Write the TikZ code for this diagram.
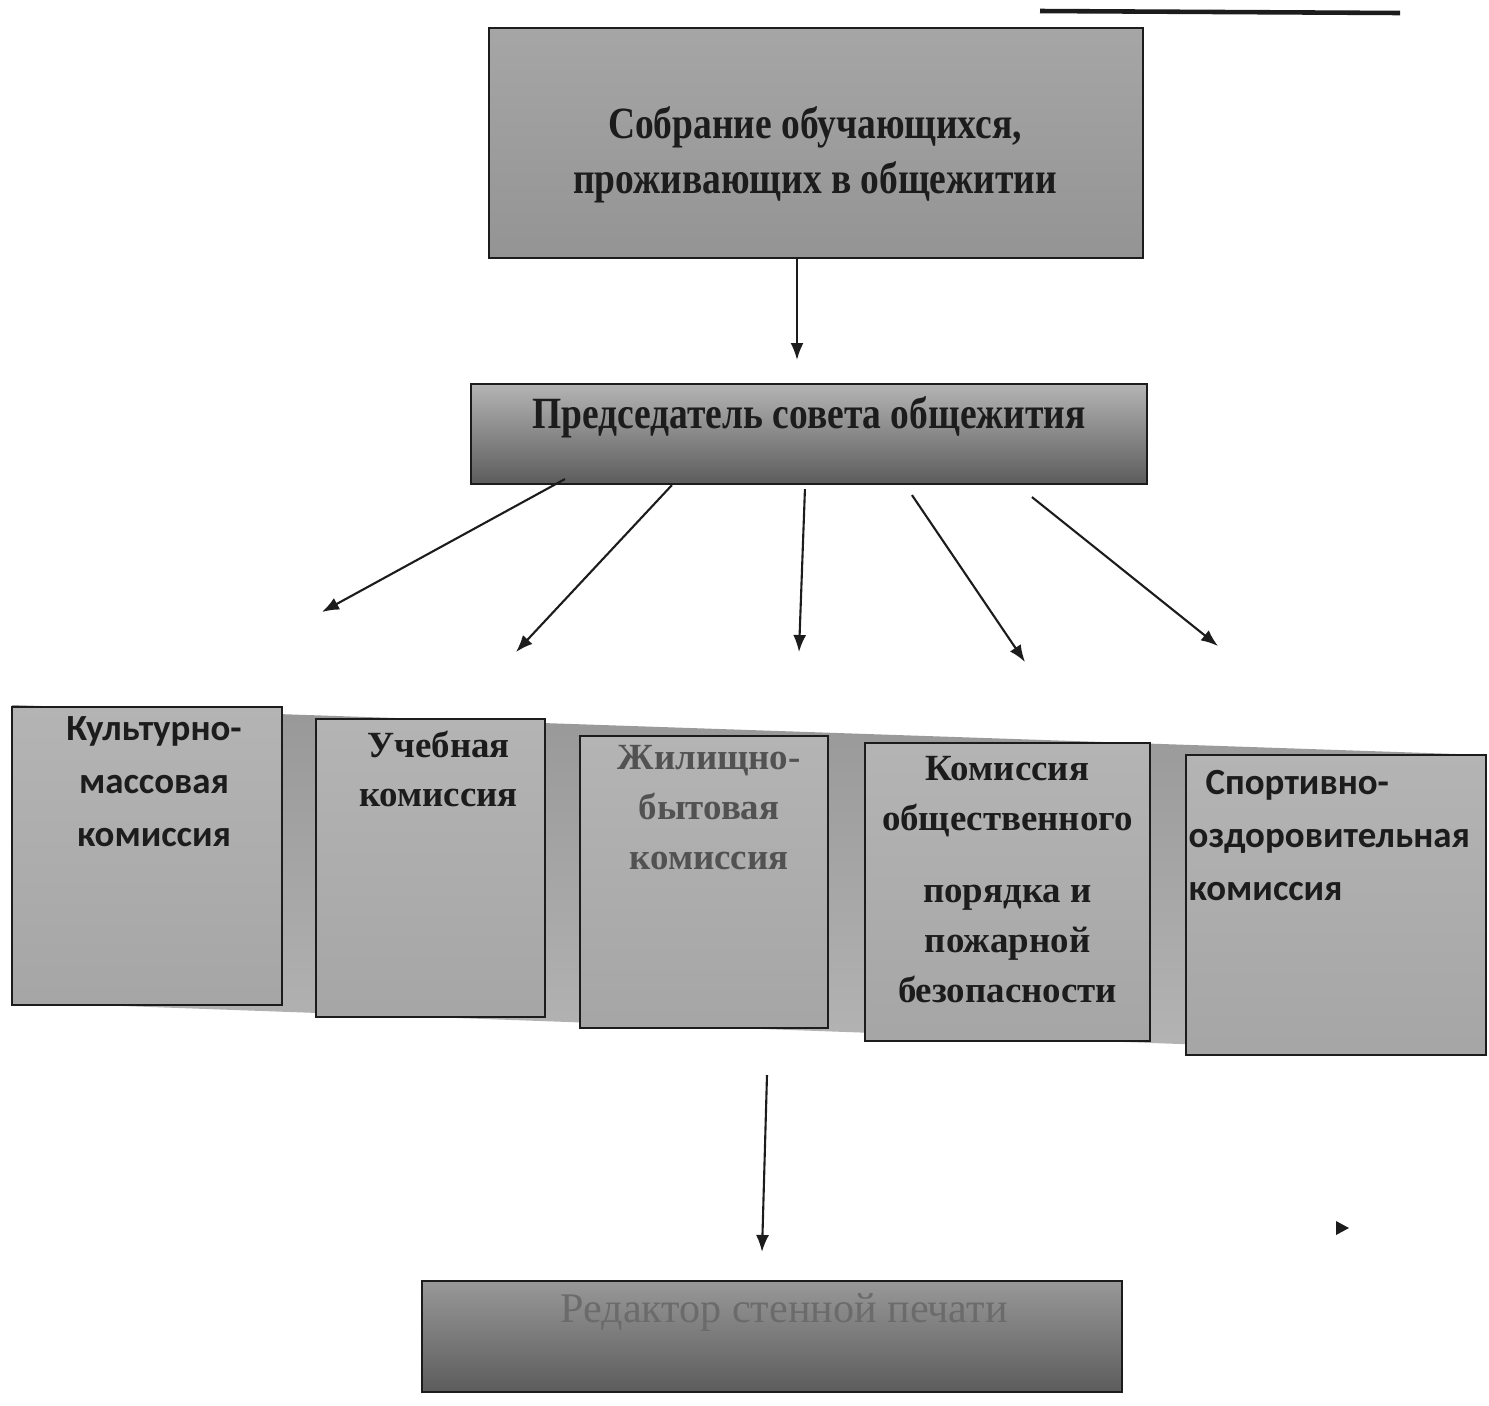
\documentclass[tikz,border=0pt]{standalone}
\usepackage{fontspec}
\setmainfont{Liberation Serif}
\newfontfamily\calib{Carlito}
\newfontfamily\condser[FakeStretch=0.84]{Liberation Serif}
\usepackage{tikz}
\usetikzlibrary{positioning,calc,arrows.meta}
\definecolor{lgray}{RGB}{180,180,180}
\definecolor{mgray}{RGB}{152,152,152}
\definecolor{dgray}{RGB}{92,92,92}
\definecolor{inkc}{RGB}{28,28,28}

\begin{document}
\begin{tikzpicture}[box/.style={draw=inkc,line width=0.6pt,inner sep=0pt},
    kom/.style={box,top color=lgray,bottom color=lgray!92!black},
    txt/.style={align=center,inner sep=0pt,text=inkc,font=\bfseries\fontsize{10.5}{14.2}\selectfont},
    stxt/.style={txt,font=\calib\bfseries\fontsize{10.5}{15}\selectfont},
    arr/.style={-{Latex[length=1.7mm,width=1.3mm]},line width=0.6pt,draw=inkc}]
            \useasboundingbox (0,0) rectangle (14.89,-14.05);
            \draw[line width=1.3pt,inkc] (10.4,-0.11) -- (14.0,-0.13);

            \node[box,top color=black!35,bottom color=black!42,minimum width=6.54cm,minimum height=2.30cm] (s) at (8.16,-1.43) {};
            \node[txt,font=\condser\bfseries\fontsize{12.7}{15.5}\selectfont] (st) at (8.15,-1.55) {Собрание обучающихся,\\проживающих в общежитии};

            \node[box,top color=lgray,bottom color=dgray,minimum width=6.76cm,minimum height=1.00cm] (p) at (8.09,-4.34) {};
            \node[txt,font=\condser\bfseries\fontsize{12.7}{15}\selectfont,below=0.13cm of p.north] (pt) {Председатель совета общежития};

            \shade[top color=mgray,bottom color=lgray] (0.12,-7.05) -- (14.86,-7.55) -- (14.86,-10.55) -- (0.12,-10.02) -- cycle;
            \node[kom,minimum width=2.70cm,minimum height=2.98cm] (k1) at (1.47,-8.56) {};
            \node[kom,minimum width=2.29cm,minimum height=2.98cm] (k2) at (4.305,-8.68) {};
            \node[kom,minimum width=2.48cm,minimum height=2.92cm] (k3) at (7.04,-8.82) {};
            \node[kom,minimum width=2.85cm,minimum height=2.98cm] (k4) at (10.075,-8.92) {};
            \node[kom,minimum width=3.00cm,minimum height=3.00cm] (k5) at (13.36,-9.05) {};

            \node[stxt,below=0.1cm of k1.north,xshift=0.07cm] (t1) {Культурно-\\массовая\\комиссия};
            \node[txt,below=0.12cm of k2.north,xshift=0.08cm] (t2) {Учебная\\комиссия};
            \node[txt,below=0.1cm of k3.north,xshift=0.05cm,text=black!68] (t3) {Жилищно-\\бытовая\\комиссия};
            \node[txt,below=0.14cm of k4.north] (t4) {Комиссия\\общественного\\[0.22cm]порядка и\\пожарной\\безопасности};
            \node[stxt,align=left,anchor=north west] (t5) at ($(k5.north west)+(0.03,-0.16)$) {\hspace{0.17cm}Спортивно-\\оздоровительная\\комиссия};

            \node[box,top color=mgray,bottom color=dgray,minimum width=7.00cm,minimum height=1.11cm] (r) at (7.72,-13.365) {};
            \node[font=\fontsize{12}{14}\selectfont,text=black!58,inner sep=0pt,below=0.13cm of r.north,xshift=0.12cm] (rt) {Редактор стенной печати};

            \coordinate (a0) at (7.97,-3.60);
            \coordinate (a1) at (3.22,-6.12);
            \coordinate (a2) at (5.16,-6.52);
            \coordinate (a3) at (7.99,-6.52);
            \coordinate (a4) at (10.25,-6.62);
            \coordinate (a5) at (12.18,-6.46);
            \coordinate (b0) at (7.67,-10.75);
            \coordinate (b1) at (7.62,-12.52);

            \draw[arr] (s.south -| a0) -- (a0);
            \draw[arr] ($(p.south west)+(0.95,0.06)$) -- (a1);
            \draw[arr] ($(p.south west)+(2.02,0)$) -- (a2);
            \draw[arr] ($(p.south west)+(3.35,-0.04)$) -- (a3);
            \draw[arr] ($(p.south west)+(4.42,-0.1)$) -- (a4);
            \draw[arr] ($(p.south west)+(5.62,-0.12)$) -- (a5);
            \draw[arr] (b0) -- (b1);
            \fill[inkc] (13.36,-12.21) -- (13.49,-12.28) -- (13.36,-12.35) -- cycle;
          \end{tikzpicture}
\end{document}
